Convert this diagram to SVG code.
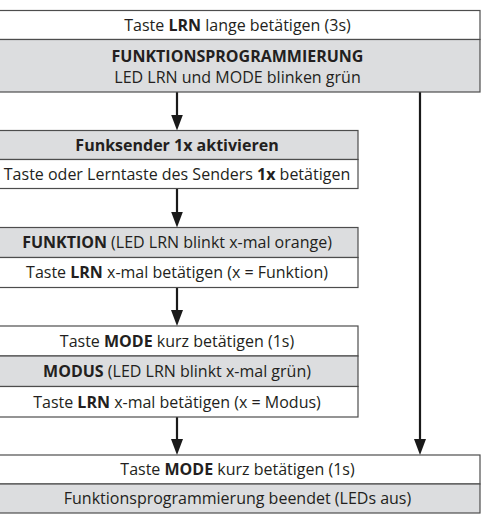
<svg xmlns="http://www.w3.org/2000/svg" width="490" height="518" viewBox="0 0 490 518">
<style>
.w{fill:#ffffff;stroke:#4d4d4d;stroke-width:1.2}
.g{fill:#dcdddf;stroke:#4d4d4d;stroke-width:1.2}
text{font-family:"Open Sans","Liberation Sans",sans-serif;font-size:16px;fill:#231f20;text-anchor:middle}
.bd{font-weight:700}
.c{stroke:#1a1a1a;stroke-width:2.2;fill:none}
</style>
<defs>
<marker id="ah" markerUnits="userSpaceOnUse" viewBox="0 0 16 12" markerWidth="16" markerHeight="12" refX="2" refY="6" orient="auto">
<path d="M0,0 L16,6 L0,12 z" fill="#1a1a1a"/>
</marker>
</defs>
<rect width="490" height="518" fill="#ffffff"/>
<g id="connectors">
<line class="c" x1="177" y1="92" x2="177" y2="116.5" marker-end="url(#ah)"/>
<line class="c" x1="177" y1="188.5" x2="177" y2="213.5" marker-end="url(#ah)"/>
<line class="c" x1="177" y1="287.5" x2="177" y2="312" marker-end="url(#ah)"/>
<line class="c" x1="177" y1="417" x2="177" y2="441" marker-end="url(#ah)"/>
<line class="c" x1="420" y1="92" x2="420" y2="441" marker-end="url(#ah)"/>
</g>
<g id="node-start">
<rect class="w" x="-5" y="10.5" width="485" height="29"/>
<rect class="g" x="-5" y="39.5" width="485" height="52.5"/>
<text x="237.5" y="30.7">Taste <tspan class="bd">LRN</tspan> lange betätigen (3s)</text>
<text class="bd" x="237.5" y="61.5">FUNKTIONSPROGRAMMIERUNG</text>
<text x="237.5" y="82.5">LED LRN und MODE blinken grün</text>
</g>
<g id="node-funksender">
<rect class="g" x="-5" y="130.5" width="363" height="29"/>
<rect class="w" x="-5" y="159.5" width="363" height="29"/>
<text class="bd" x="177" y="150.7">Funksender 1x aktivieren</text>
<text x="177" y="179.7">Taste oder Lerntaste des Senders <tspan class="bd">1x</tspan> betätigen</text>
</g>
<g id="node-funktion">
<rect class="g" x="-5" y="227.5" width="363" height="30"/>
<rect class="w" x="-5" y="257.5" width="363" height="30"/>
<text x="177" y="248.2"><tspan class="bd">FUNKTION</tspan> (LED LRN blinkt x-mal orange)</text>
<text x="177" y="278.2">Taste <tspan class="bd">LRN</tspan> x-mal betätigen (x = Funktion)</text>
</g>
<g id="node-modus">
<rect class="w" x="-5" y="326" width="363" height="30"/>
<rect class="g" x="-5" y="356" width="363" height="30.5"/>
<rect class="w" x="-5" y="386.5" width="363" height="30.5"/>
<text x="177" y="346.7">Taste <tspan class="bd">MODE</tspan> kurz betätigen (1s)</text>
<text x="177" y="377"><tspan class="bd">MODUS</tspan> (LED LRN blinkt x-mal grün)</text>
<text x="177" y="407.5">Taste <tspan class="bd">LRN</tspan> x-mal betätigen (x = Modus)</text>
</g>
<g id="node-ende">
<rect class="w" x="-5" y="455" width="485" height="29"/>
<rect class="g" x="-5" y="484" width="485" height="29"/>
<text x="237.5" y="475.2">Taste <tspan class="bd">MODE</tspan> kurz betätigen (1s)</text>
<text x="237.5" y="504.2">Funktionsprogrammierung beendet (LEDs aus)</text>
</g>
</svg>
